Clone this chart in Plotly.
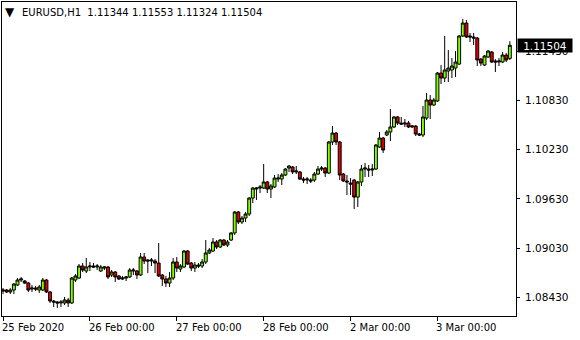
import plotly.graph_objects as go

# EURUSD H1 candles, 25 Feb 2020 00:00 -> 3 Mar 2020 20:00 (141 bars)
opens = [1.08506,1.08518,1.08494,1.08518,1.08579,1.08640,1.08628,1.08603,1.08530,1.08542,
         1.08518,1.08518,1.08640,1.08494,1.08384,1.08372,1.08360,1.08360,1.08396,1.08360,
         1.08640,1.08664,1.08811,1.08750,1.08799,1.08811,1.08799,1.08750,1.08786,1.08799,
         1.08701,1.08738,1.08689,1.08652,1.08664,1.08677,1.08750,1.08750,1.08701,1.08921,
         1.08884,1.08872,1.08872,1.08847,1.08701,1.08652,1.08603,1.08664,1.08860,1.08774,
         1.08799,1.08994,1.08847,1.08786,1.08823,1.08811,1.08860,1.08970,1.08994,1.09104,
         1.09043,1.09128,1.09067,1.09128,1.09214,1.09470,1.09348,1.09396,1.09445,1.09640,
         1.09750,1.09762,1.09762,1.09836,1.09750,1.09775,1.09872,1.09872,1.09921,1.10006,
         1.10019,1.09958,1.09958,1.09872,1.09860,1.09860,1.09860,1.09933,1.09994,1.10006,
         1.09945,1.10324,1.10433,1.10324,1.09933,1.09848,1.09823,1.09860,1.09652,1.09836,
         1.09994,1.09994,1.09982,1.09994,1.10263,1.10372,1.10409,1.10446,1.10507,1.10629,
         1.10555,1.10543,1.10555,1.10507,1.10519,1.10421,1.10409,1.10616,1.10836,1.10775,
         1.10824,1.11165,1.11104,1.11190,1.11202,1.11226,1.11275,1.11617,1.11775,1.11617,
         1.11605,1.11592,1.11336,1.11263,1.11361,1.11422,1.11312,1.11300,1.11300,1.11385,
         1.11344]
highs = [1.08542,1.08530,1.08542,1.08603,1.08664,1.08677,1.08640,1.08616,1.08579,1.08567,
         1.08579,1.08664,1.08652,1.08506,1.08396,1.08384,1.08396,1.08433,1.08420,1.08677,
         1.08713,1.08835,1.08847,1.08908,1.08860,1.08847,1.08835,1.08823,1.08811,1.08811,
         1.08762,1.08750,1.08701,1.08689,1.08689,1.08786,1.08786,1.08762,1.08970,1.08970,
         1.08896,1.08908,1.08896,1.09092,1.08713,1.08689,1.08738,1.08908,1.08921,1.08835,
         1.09006,1.09006,1.08860,1.08860,1.08847,1.08896,1.09128,1.09030,1.09152,1.09128,
         1.09140,1.09140,1.09128,1.09226,1.09482,1.09482,1.09421,1.09470,1.09652,1.09775,
         1.09775,1.09799,1.10055,1.09848,1.09811,1.09921,1.09933,1.09945,1.10006,1.10043,
         1.10031,1.10031,1.09970,1.09897,1.09897,1.09884,1.09958,1.10031,1.10031,1.10019,
         1.10336,1.10519,1.10446,1.10336,1.09945,1.09921,1.09884,1.09872,1.09848,1.10043,
         1.10067,1.10043,1.10055,1.10299,1.10446,1.10385,1.10470,1.10726,1.10641,1.10641,
         1.10629,1.10604,1.10580,1.10531,1.10531,1.10433,1.10763,1.10921,1.10897,1.10860,
         1.11178,1.11263,1.11617,1.11446,1.11348,1.11434,1.11629,1.11824,1.11812,1.11653,
         1.11653,1.11605,1.11348,1.11385,1.11446,1.11434,1.11336,1.11348,1.11422,1.11409,
         1.11553]
lows = [1.08469,1.08482,1.08469,1.08469,1.08567,1.08616,1.08591,1.08494,1.08494,1.08506,
        1.08482,1.08506,1.08482,1.08360,1.08311,1.08299,1.08311,1.08335,1.08311,1.08347,
        1.08616,1.08652,1.08738,1.08725,1.08750,1.08786,1.08762,1.08738,1.08762,1.08652,
        1.08677,1.08616,1.08640,1.08640,1.08628,1.08664,1.08701,1.08652,1.08689,1.08835,
        1.08725,1.08811,1.08725,1.08677,1.08567,1.08555,1.08555,1.08640,1.08738,1.08738,
        1.08786,1.08823,1.08750,1.08738,1.08786,1.08786,1.08835,1.08957,1.08982,1.09018,
        1.09030,1.09055,1.09043,1.09116,1.09189,1.09323,1.09323,1.09348,1.09421,1.09579,
        1.09616,1.09701,1.09750,1.09701,1.09640,1.09762,1.09836,1.09799,1.09909,1.09958,
        1.09933,1.09933,1.09860,1.09823,1.09811,1.09823,1.09836,1.09921,1.09970,1.09897,
        1.09933,1.10287,1.10287,1.09860,1.09836,1.09677,1.09677,1.09506,1.09531,1.09787,
        1.09897,1.09897,1.09909,1.09982,1.10250,1.10190,1.10397,1.10336,1.10494,1.10531,
        1.10531,1.10507,1.10494,1.10494,1.10397,1.10397,1.10385,1.10592,1.10604,1.10763,
        1.10812,1.11031,1.11056,1.11056,1.11104,1.11117,1.11263,1.11605,1.11592,1.11544,
        1.11507,1.11251,1.11251,1.11251,1.11348,1.11287,1.11178,1.11251,1.11287,1.11300,
        1.11324]
closes = [1.08518,1.08494,1.08518,1.08591,1.08640,1.08652,1.08603,1.08518,1.08542,1.08530,
          1.08555,1.08640,1.08494,1.08384,1.08372,1.08360,1.08372,1.08396,1.08360,1.08664,
          1.08689,1.08811,1.08762,1.08799,1.08811,1.08799,1.08811,1.08799,1.08799,1.08677,
          1.08738,1.08677,1.08652,1.08664,1.08677,1.08762,1.08762,1.08701,1.08921,1.08872,
          1.08872,1.08884,1.08847,1.08689,1.08652,1.08603,1.08664,1.08860,1.08786,1.08811,
          1.08994,1.08835,1.08786,1.08823,1.08811,1.08860,1.08970,1.09006,1.09104,1.09043,
          1.09128,1.09067,1.09104,1.09214,1.09470,1.09348,1.09396,1.09445,1.09640,1.09762,
          1.09762,1.09775,1.09836,1.09750,1.09787,1.09884,1.09884,1.09921,1.09994,1.10031,
          1.09958,1.09970,1.09872,1.09860,1.09872,1.09848,1.09933,1.09994,1.10006,1.09945,
          1.10324,1.10433,1.10324,1.09921,1.09848,1.09836,1.09811,1.09652,1.09836,1.09994,
          1.10006,1.09982,1.09994,1.10287,1.10372,1.10226,1.10446,1.10507,1.10629,1.10555,
          1.10543,1.10555,1.10507,1.10519,1.10421,1.10409,1.10629,1.10836,1.10775,1.10836,
          1.11165,1.11104,1.11202,1.11226,1.11251,1.11300,1.11617,1.11775,1.11605,1.11605,
          1.11592,1.11324,1.11287,1.11373,1.11434,1.11300,1.11300,1.11312,1.11385,1.11324,
          1.11504]

tick_bars = [0, 24, 48, 72, 96, 120]
tick_labels = ["25 Feb 2020", "26 Feb 00:00", "27 Feb 00:00", "28 Feb 00:00", "2 Mar 00:00", "3 Mar 00:00"]
price_ticks = [1.08430, 1.09030, 1.09630, 1.10230, 1.10830, 1.11430]
last_price = 1.11504
header = "EURUSD,H1  1.11344 1.11553 1.11324 1.11504"

FONT = "DejaVu Sans"
bars = list(range(len(opens)))

fig = go.Figure(go.Candlestick(
    x=bars, open=opens, high=highs, low=lows, close=closes,
    increasing=dict(line=dict(color="black", width=1), fillcolor="#7FFF00"),
    decreasing=dict(line=dict(color="black", width=1), fillcolor="#E00000"),
    whiskerwidth=0, hoverinfo="skip", showlegend=False,
))

fig.update_layout(
    width=580, height=340,
    margin=dict(l=2, r=64, t=2, b=24),
    paper_bgcolor="white", plot_bgcolor="white",
    boxgap=0.15, boxgroupgap=0.05,
    font=dict(family=FONT, size=10, color="black"),
    xaxis=dict(
        range=[-0.28, 141.7], rangeslider=dict(visible=False),
        showgrid=False, zeroline=False,
        showline=True, mirror=True, linecolor="black", linewidth=1,
        tickmode="array", tickvals=tick_bars, ticktext=[""] * len(tick_bars),
        ticks="outside", ticklen=4, tickcolor="black", tickwidth=1,
    ),
    yaxis=dict(
        range=[1.08201, 1.12032], side="right",
        showgrid=False, zeroline=False,
        showline=True, mirror=True, linecolor="black", linewidth=1,
        tickmode="array", tickvals=price_ticks,
        ticktext=[f"{v:.5f}" for v in price_ticks],
        ticks="outside", ticklen=3, tickcolor="black", tickwidth=1,
        ticklabelstandoff=3,
        tickfont=dict(family=FONT, size=10.5, color="black"),
    ),
)

annotations = []
for b, lab in zip(tick_bars, tick_labels):
    annotations.append(dict(
        x=b, xref="x", y=0, yref="paper", text=lab, showarrow=False,
        xanchor="left", yanchor="top", xshift=-3, yshift=-4,
        font=dict(family=FONT, size=10, color="black")))
annotations.append(dict(
    x=1, xref="paper", y=last_price, yref="y", text=f"{last_price:.5f}",
    showarrow=False, xanchor="left", yanchor="middle", xshift=1,
    bgcolor="black", font=dict(family=FONT, size=10.5, color="white"),
    width=54, height=13, borderpad=0, align="center"))
annotations.append(dict(
    x=0, xref="paper", y=1, yref="paper", text="▼", showarrow=False,
    xanchor="left", yanchor="top", xshift=1, yshift=-1,
    font=dict(family=FONT, size=12, color="black")))
annotations.append(dict(
    x=0, xref="paper", y=1, yref="paper", text=header, showarrow=False,
    xanchor="left", yanchor="top", xshift=18, yshift=-3,
    font=dict(family=FONT, size=10, color="black")))
fig.update_layout(annotations=annotations)

fig.write_html("out.html")
